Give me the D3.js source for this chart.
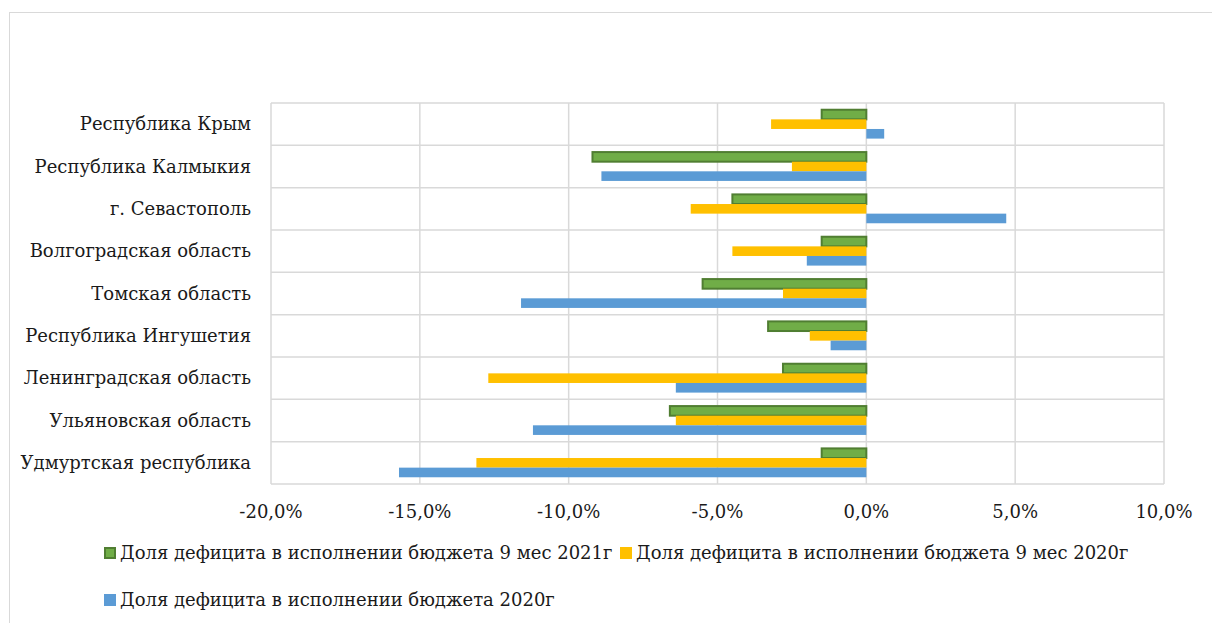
<!DOCTYPE html>
<html>
<head>
<meta charset="utf-8">
<script src="https://cdn.jsdelivr.net/npm/d3@7"></script>
<style>
  body { margin: 0; background: #fff; }
  svg text { font-family: "DejaVu Serif", serif; fill: #1a1a1a; }
</style>
</head>
<body>
<div id="chart"></div>
<script>
// regions, top to bottom
const categories = [
    "Республика Крым",
    "Республика Калмыкия",
    "г. Севастополь",
    "Волгоградская область",
    "Томская область",
    "Республика Ингушетия",
    "Ленинградская область",
    "Ульяновская область",
    "Удмуртская республика"
];

// deficit share, %
const deficit9m2021 = [-1.5, -9.2, -4.5, -1.5, -5.5, -3.3, -2.8, -6.6, -1.5];
const deficit9m2020 = [-3.2, -2.5, -5.9, -4.5, -2.8, -1.9, -12.7, -6.4, -13.1];
const deficit2020 = [0.6, -8.9, 4.7, -2.0, -11.6, -1.2, -6.4, -11.2, -15.7];

const seriesNames = [
    "Доля дефицита в исполнении бюджета 9 мес 2021г",
    "Доля дефицита в исполнении бюджета 9 мес 2020г",
    "Доля дефицита в исполнении бюджета 2020г"
];
const seriesColors = ["#70AD47", "#FFC000", "#5B9BD5"];
const xTicks = [-20, -15, -10, -5, 0, 5, 10];

const width = 1212, height = 623;
const margin = {top: 103, right: 48, bottom: 139, left: 271};
const fontSize = "18px";

const svg = d3.select("#chart").append("svg")
    .attr("width", width)
    .attr("height", height);

// chart frame
svg.append("rect")
    .attr("x", 9.5).attr("y", 12.5)
    .attr("width", width + 20).attr("height", height + 20)
    .attr("fill", "none")
    .attr("stroke", "#d9d9d9");

const x = d3.scaleLinear()
    .domain([-20, 10])
    .range([margin.left, width - margin.right]);

const y = d3.scaleBand()
    .domain(categories)
    .range([margin.top, height - margin.bottom]);

const ySub = d3.scaleBand()
    .domain([0, 1, 2])
    .range([0, y.bandwidth()])
    .paddingOuter(0.7);

const ruLocale = d3.formatLocale({decimal: ",", thousands: " ", grouping: [3], currency: ["", ""], minus: "-"});
const fmt = v => ruLocale.format(".1f")(v) + "%";

// grid
const grid = svg.append("g");
grid.selectAll("line.v")
    .data(xTicks)
    .join("line")
    .attr("x1", d => x(d)).attr("x2", d => x(d))
    .attr("y1", margin.top).attr("y2", height - margin.bottom)
    .attr("stroke", "#d9d9d9").attr("stroke-width", 1.5);

const hLines = categories.map(c => y(c)).concat([y.range()[1]]);
grid.selectAll("line.h")
    .data(hLines)
    .join("line")
    .attr("x1", margin.left).attr("x2", width - margin.right)
    .attr("y1", d => d).attr("y2", d => d)
    .attr("stroke", "#d9d9d9").attr("stroke-width", 1.5);

// bars
const allSeries = [deficit9m2021, deficit9m2020, deficit2020];
allSeries.forEach((vals, si) => {
    svg.append("g")
        .selectAll("rect")
        .data(vals)
        .join("rect")
        .attr("x", d => x(Math.min(0, d)))
        .attr("width", d => Math.abs(x(d) - x(0)))
        .attr("y", (d, i) => y(categories[i]) + ySub(si))
        .attr("height", ySub.bandwidth())
        .attr("fill", seriesColors[si])
        .attr("stroke", si === 0 ? "#507E32" : "none")
        .attr("stroke-width", si === 0 ? 2 : 0);
});

// category labels
svg.append("g")
    .selectAll("text")
    .data(categories)
    .join("text")
    .attr("x", 251)
    .attr("y", d => y(d) + y.bandwidth() / 2)
    .attr("dy", "0.35em")
    .attr("text-anchor", "end")
    .style("font-size", fontSize)
    .text(d => d);

// x axis labels
svg.append("g")
    .selectAll("text")
    .data(xTicks)
    .join("text")
    .attr("x", d => x(d))
    .attr("y", 512)
    .attr("dy", "0.35em")
    .attr("text-anchor", "middle")
    .style("font-size", fontSize)
    .text(d => fmt(d));

// legend
const legendPos = [{x: 104, y: 553}, {x: 620, y: 553}, {x: 104, y: 600}];
const legend = svg.append("g");
seriesNames.forEach((name, i) => {
    const p = legendPos[i];
    legend.append("rect")
        .attr("x", p.x + (i === 0 ? 1 : 0)).attr("y", p.y - 6 + (i === 0 ? 1 : 0))
        .attr("width", i === 0 ? 10 : 12).attr("height", i === 0 ? 10 : 12)
        .attr("fill", seriesColors[i])
        .attr("stroke", i === 0 ? "#507E32" : "none")
        .attr("stroke-width", 2);
    legend.append("text")
        .attr("x", p.x + 16)
        .attr("y", p.y)
        .attr("dy", "0.35em")
        .style("font-size", fontSize)
        .text(name);
});
</script>
</body>
</html>
